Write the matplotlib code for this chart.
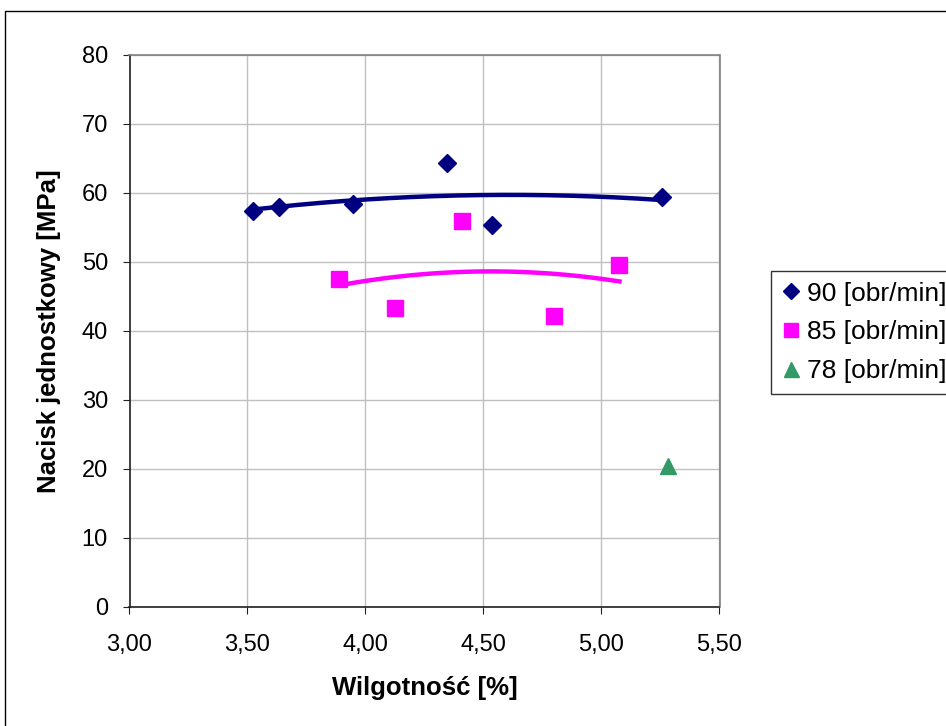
import numpy as np
import matplotlib
matplotlib.use("Agg")
import matplotlib.pyplot as plt
from matplotlib.patches import Rectangle
from matplotlib.ticker import FuncFormatter, MultipleLocator

plt.rcParams['font.family'] = ['Liberation Sans', 'DejaVu Sans']

x90 = [3.524, 3.634, 3.945, 4.347, 4.537, 5.257]
y90 = [57.35, 57.97, 58.3, 64.25, 55.3, 59.4]
x85 = [3.887, 4.123, 4.408, 4.797, 5.076]
y85 = [47.45, 43.3, 55.9, 42.1, 49.5]
x78 = [5.282]
y78 = [20.4]
labels = ['90 [obr/min]', '85 [obr/min]', '78 [obr/min]']

c90 = '#000080'
c85 = '#FF00FF'
c78 = '#339966'

fig = plt.figure(figsize=(9.46, 7.26), dpi=100)
ax = fig.add_axes([129.5/946, 1-606.7/726, (719.5-129.5)/946, (606.7-54.7)/726])

# outer border of chart area
fig.patches.append(Rectangle((5/946, -0.1), 1.2, 1-11/726+0.1, transform=fig.transFigure,
                             fill=False, edgecolor='black', linewidth=1.0))

# trendlines (polynomial order 2)
for xs, ys, c in [(x90, y90, c90), (x85, y85, c85)]:
    p = np.polyfit(xs, ys, 2)
    xx = np.linspace(min(xs), max(xs), 200)
    ax.plot(xx, np.polyval(p, xx), color=c, linewidth=3.2, zorder=3)

h1, = ax.plot(x90, y90, linestyle='none', marker='D', color=c90, markersize=9, zorder=4, label=labels[0])
h2, = ax.plot(x85, y85, linestyle='none', marker='s', color=c85, markersize=11, zorder=4, label=labels[1])
h3, = ax.plot(x78, y78, linestyle='none', marker='^', color=c78, markersize=12, zorder=4, label=labels[2])

ax.set_xlim(3.0, 5.5)
ax.set_ylim(0, 80)
ax.xaxis.set_major_locator(MultipleLocator(0.5))
ax.yaxis.set_major_locator(MultipleLocator(10))
ax.xaxis.set_major_formatter(FuncFormatter(lambda v, p: f"{v:.2f}".replace('.', ',')))
ax.grid(True, color='#c0c0c0', linewidth=1.0)
ax.set_axisbelow(True)
for k in ['top', 'right']:
    ax.spines[k].set_color('#808080')
    ax.spines[k].set_linewidth(1.2)
for k in ['left', 'bottom']:
    ax.spines[k].set_color('#202020')
    ax.spines[k].set_linewidth(1.2)
ax.tick_params(axis='both', direction='out', length=5, color='#202020', labelsize=17)
ax.tick_params(axis='y', pad=10.5)
ax.tick_params(axis='x', pad=15)

ax.set_xlabel('Wilgotność [%]', fontsize=18.5, fontweight='bold', labelpad=14)
ax.set_ylabel('Nacisk jednostkowy [MPa]', fontsize=18.5, fontweight='bold', labelpad=15)

leg = fig.legend(handles=[h1, h2, h3], loc='upper left', bbox_to_anchor=(771/946, 1-271/726),
                 fontsize=19, frameon=True, fancybox=False, borderpad=0.4, labelspacing=0.56,
                 handlelength=0.7, handletextpad=0.25, borderaxespad=0, markerscale=0.9)
leg.get_frame().set_edgecolor('black')
leg.get_frame().set_linewidth(1.0)

fig.savefig('out.png', dpi=100)
